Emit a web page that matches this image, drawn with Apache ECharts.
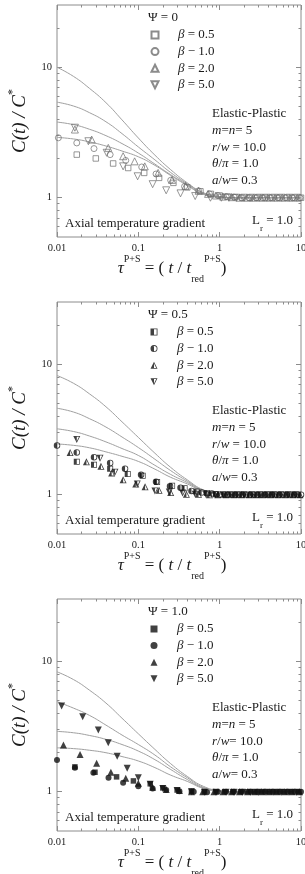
<!DOCTYPE html>
<html>
<head>
<meta charset="utf-8">
<title>C(t)/C* versus reduced time</title>
<script src="https://cdn.jsdelivr.net/npm/echarts@6/dist/echarts.min.js"></script>
<style>
  html, body { margin: 0; padding: 0; background: #fff; }
  #chart { width: 305px; height: 874px; }
</style>
</head>
<body>
<div id="chart"></div>
<script>
  // Axis ticks and labels
  var xTicks = [0.01, 0.1, 1, 10];
  var xTickLabels = ['0.01', '0.1', '1', '10'];
  var xMinorTicks = [0.02, 0.03, 0.04, 0.05, 0.06, 0.07, 0.08, 0.09,
                     0.2, 0.3, 0.4, 0.5, 0.6, 0.7, 0.8, 0.9,
                     2, 3, 4, 5, 6, 7, 8, 9];
  var yTicks = [1, 10];
  var yTickLabels = ['1', '10'];
  var yMinorTicks = [0.6, 0.7, 0.8, 0.9, 2, 3, 4, 5, 6, 7, 8, 9, 20];

  // Texts
  var psiLabels = ['Ψ = 0', 'Ψ = 0.5', 'Ψ = 1.0'];
  var betaLabels = ['{i|β} = 0.5', '{i|β} − 1.0', '{i|β} = 2.0', '{i|β} = 5.0'];
  var paramLines = [
    ['Elastic-Plastic', '{i|m}={i|n}= 5', '{i|r}/{i|w} = 10.0', '{i|θ}/{i|π} = 1.0', '{i|a}/{i|w}= 0.3'],
    ['Elastic-Plastic', '{i|m}={i|n} = 5', '{i|r}/{i|w} = 10.0', '{i|θ}/{i|π} = 1.0', '{i|a}/{i|w}= 0.3'],
    ['Elastic-Plastic', '{i|m}={i|n} = 5', '{i|r}/{i|w}= 10.0', '{i|θ}/{i|π} = 1.0', '{i|a}/{i|w}= 0.3']
  ];

  // Gray model curves, sampled at curveX
  var curveX = [0.01, 0.016, 0.025, 0.04, 0.063, 0.1, 0.16, 0.25, 0.4, 0.63, 1, 1.6, 2.5, 4, 6.3, 10];

  var p1CurveA = [10, 8.5, 6.9, 5.35, 3.95, 2.87, 2.12, 1.64, 1.3, 1.09, 1.01, 1, 1, 1, 1, 1];
  var p1CurveB = [5.4, 5.04, 4.49, 3.82, 3.1, 2.45, 1.95, 1.56, 1.28, 1.09, 1.02, 1, 1, 1, 1, 1];
  var p1CurveC = [3.8, 3.63, 3.35, 2.99, 2.6, 2.2, 1.81, 1.5, 1.26, 1.07, 1.02, 1, 1, 1, 1, 1];
  var p1CurveD = [2.9, 2.82, 2.68, 2.49, 2.28, 2.06, 1.77, 1.48, 1.24, 1.06, 1.01, 1, 1, 1, 1, 1];

  var p2CurveA = [8.2, 7.14, 5.94, 4.72, 3.62, 2.75, 2.08, 1.62, 1.3, 1.09, 1.02, 1, 1, 1, 1, 1];
  var p2CurveB = [4.6, 4.3, 3.83, 3.3, 2.77, 2.3, 1.87, 1.53, 1.27, 1.08, 1.02, 1, 1, 1, 1, 1];
  var p2CurveC = [3.2, 3.05, 2.82, 2.54, 2.26, 2.0, 1.68, 1.43, 1.24, 1.07, 1.02, 1, 1, 1, 1, 1];
  var p2CurveD = [2.45, 2.39, 2.29, 2.13, 1.97, 1.8, 1.57, 1.36, 1.21, 1.06, 1.01, 1, 1, 1, 1, 1];

  var p3CurveA = [8.3, 7.23, 6.01, 4.78, 3.66, 2.78, 2.11, 1.64, 1.31, 1.1, 1.02, 1, 1, 1, 1, 1];
  var p3CurveB = [4.9, 4.37, 3.85, 3.24, 2.72, 2.3, 1.91, 1.55, 1.28, 1.08, 1.02, 1, 1, 1, 1, 1];
  var p3CurveC = [2.9, 2.83, 2.7, 2.52, 2.3, 2.05, 1.76, 1.48, 1.24, 1.07, 1.02, 1, 1, 1, 1, 1];
  var p3CurveD = [2.17, 2.14, 2.08, 1.99, 1.86, 1.72, 1.53, 1.34, 1.2, 1.06, 1.01, 1, 1, 1, 1, 1];

  // Measured points [tau, C(t)/C*]
  // Psi = 0
  var p1Beta05 = [[0.0175,2.14],[0.030,2.0],[0.049,1.83],[0.075,1.69],[0.118,1.55],[0.18,1.42],[0.27,1.3],[0.4,1.2],[0.58,1.12],[0.78,1.07],[1.0,1.04],[1.25,1.02],[1.55,1.01],[1.9,1.0],[2.35,1.0],[2.9,1.0],[3.6,1.0],[4.4,1.0],[5.4,1.0],[6.7,1.0],[8.2,1.0],[10,1.0]];
  var p1Beta10 = [[0.0104,2.88],[0.0175,2.63],[0.0285,2.38],[0.045,2.14],[0.07,1.93],[0.11,1.72],[0.165,1.52],[0.25,1.36],[0.37,1.22],[0.55,1.13],[0.75,1.07],[0.95,1.04],[1.2,1.02],[1.5,1.01],[1.85,1.0],[2.3,1.0],[2.8,1.0],[3.4,1.0],[4.2,1.0],[5.2,1.0],[6.4,1.0],[7.9,1.0],[9.7,1.0]];
  var p1Beta20 = [[0.0166,3.33],[0.0267,2.79],[0.0427,2.41],[0.065,2.08],[0.09,1.9],[0.12,1.74],[0.175,1.55],[0.26,1.37],[0.38,1.23],[0.55,1.13],[0.72,1.07],[0.9,1.04],[1.1,1.02],[1.4,1.01],[1.75,1.0],[2.15,1.0],[2.6,1.0],[3.2,1.0],[3.9,1.0],[4.8,1.0],[5.9,1.0],[7.3,1.0],[9,1.0]];
  var p1Beta50 = [[0.0166,3.44],[0.0243,2.71],[0.0408,2.21],[0.065,1.74],[0.098,1.46],[0.15,1.27],[0.22,1.14],[0.33,1.08],[0.5,1.03],[0.77,1.0],[1.05,1.0],[1.3,1.0],[1.6,1.0],[2.0,1.0],[2.5,1.0],[3.1,1.0],[3.8,1.0],[4.7,1.0],[5.8,1.0],[7.2,1.0],[8.9,1.0]];
  // Psi = 0.5
  var p2Beta05 = [[0.0175,1.79],[0.0285,1.70],[0.045,1.58],[0.074,1.44],[0.113,1.4],[0.17,1.25],[0.26,1.17],[0.37,1.12],[0.52,1.06],[0.7,1.03],[0.9,1.01],[1.15,1.0],[1.4,1.0],[1.7,1.0],[2.1,1.0],[2.6,1.0],[3.2,1.0],[3.9,1.0],[4.8,1.0],[5.9,1.0],[7.3,1.0],[9,1.0]];
  var p2Beta10 = [[0.01,2.38],[0.0175,2.11],[0.0285,1.94],[0.045,1.75],[0.0686,1.58],[0.108,1.42],[0.165,1.26],[0.245,1.16],[0.33,1.13],[0.45,1.07],[0.6,1.04],[0.8,1.02],[1.0,1.0],[1.25,1.0],[1.55,1.0],[1.9,1.0],[2.35,1.0],[2.9,1.0],[3.6,1.0],[4.4,1.0],[5.4,1.0],[6.7,1.0],[8.2,1.0],[10,1.0]];
  var p2Beta20 = [[0.0145,2.11],[0.023,1.79],[0.0347,1.65],[0.047,1.47],[0.065,1.30],[0.093,1.21],[0.121,1.15],[0.18,1.08],[0.25,1.04],[0.39,1.01],[0.55,1.01],[0.75,1.0],[0.95,1.0],[1.2,1.0],[1.5,1.0],[1.85,1.0],[2.3,1.0],[2.8,1.0],[3.4,1.0],[4.2,1.0],[5.2,1.0],[6.4,1.0],[7.9,1.0],[9.7,1.0]];
  var p2Beta50 = [[0.0175,2.65],[0.0338,1.9],[0.0516,1.49],[0.097,1.21],[0.16,1.07],[0.24,1.05],[0.35,1.03],[0.5,1.01],[0.68,1.0],[0.88,1.0],[1.1,1.0],[1.35,1.0],[1.65,1.0],[2.0,1.0],[2.5,1.0],[3.1,1.0],[3.8,1.0],[4.6,1.0],[5.7,1.0],[7,1.0],[8.6,1.0]];
  // Psi = 1.0
  var p3Beta05 = [[0.0166,1.55],[0.0293,1.41],[0.054,1.30],[0.087,1.21],[0.14,1.15],[0.2,1.07],[0.3,1.03],[0.45,1.01],[0.65,1.0],[0.9,1.0],[1.15,1.0],[1.45,1.0],[1.8,1.0],[2.2,1.0],[2.7,1.0],[3.3,1.0],[4.1,1.0],[5,1.0],[6.2,1.0],[7.6,1.0],[9.4,1.0]];
  var p3Beta10 = [[0.01,1.75],[0.0166,1.53],[0.028,1.4],[0.043,1.28],[0.065,1.17],[0.1,1.1],[0.15,1.06],[0.22,1.03],[0.32,1.01],[0.48,1.0],[0.7,0.99],[0.95,1.0],[1.2,1.0],[1.5,1.0],[1.9,1.0],[2.4,1.0],[2.9,1.0],[3.6,1.0],[4.5,1.0],[5.5,1.0],[6.8,1.0],[8.4,1.0],[10,1.0]];
  var p3Beta20 = [[0.012,2.28],[0.0192,1.93],[0.0307,1.65],[0.046,1.41],[0.07,1.27],[0.1,1.16],[0.15,1.08],[0.22,1.04],[0.32,1.02],[0.45,1.0],[0.62,1.0],[0.85,1.0],[1.1,1.0],[1.4,1.0],[1.75,1.0],[2.2,1.0],[2.7,1.0],[3.3,1.0],[4.1,1.0],[5.1,1.0],[6.3,1.0],[7.8,1.0],[9.6,1.0]];
  var p3Beta50 = [[0.0114,4.53],[0.0207,3.75],[0.0322,2.97],[0.0427,2.37],[0.055,1.87],[0.073,1.51],[0.1,1.28],[0.14,1.14],[0.2,1.06],[0.3,1.02],[0.45,1.0],[0.65,0.99],[0.9,0.99],[1.2,0.99],[1.5,0.99],[1.9,0.99],[2.4,0.99],[3,0.99],[3.7,0.99],[4.6,0.99],[5.7,0.99],[7.1,0.99],[8.8,0.99]];

  var curveSets = [
    [p1CurveA, p1CurveB, p1CurveC, p1CurveD],
    [p2CurveA, p2CurveB, p2CurveC, p2CurveD],
    [p3CurveA, p3CurveB, p3CurveC, p3CurveD]
  ];
  var markerSets = [
    [p1Beta05, p1Beta10, p1Beta20, p1Beta50],
    [p2Beta05, p2Beta10, p2Beta20, p2Beta50],
    [p3Beta05, p3Beta10, p3Beta20, p3Beta50]
  ];

  // Layout and style
  var FONT = 'Liberation Serif';
  var INK = '#1a1a1a';
  var FRAME = '#8c8c8c';
  var panelTops = [5, 302, 599];
  var gridLeft = 57, gridWidth = 244, gridHeight = 232;

  // marker shapes
  var downTri = 'path://M0,0L10,0L5,10Z';
  // half-filled ones for Psi = 0.5
  var halfSquare = 'path://M0,0H10V10H0Z M1.2,1.2V8.8H8.8V1.2Z M0,0H5V10H0Z';
  var halfCircle = 'path://M5,0A5,5 0 0,1 5,10A5,5 0 0,1 5,0Z M5,1.2A3.8,3.8 0 0,0 5,8.8A3.8,3.8 0 0,0 5,1.2Z M5,10A5,5 0 0,1 5,0Z';
  var halfUp = 'path://M5,0L10,10L0,10Z M5,2.4L1.8,8.9L8.2,8.9Z M5,0L5,10L0,10Z';
  var halfDown = 'path://M0,0L10,0L5,10Z M1.8,1.1L5,7.6L8.2,1.1Z M0,0L5,0L5,10Z';

  var symbolSets = [
    [['rect', 5.5], ['circle', 6], ['triangle', 7], [downTri, 7]],
    [[halfSquare, 6], [halfCircle, 6.5], [halfUp, 7], [halfDown, 7]],
    [['rect', 5.5], ['circle', 6], ['triangle', 7], [downTri, 7]]
  ];
  var markerStyles = [
    { color: 'rgba(255,255,255,0)', borderColor: '#6e6e6e', borderWidth: 0.9 },
    { color: '#111' },
    { color: '#111' }
  ];

  function tickIndex(list, v) {
    for (var i = 0; i < list.length; i++) {
      if (Math.abs(list[i] - v) / list[i] < 1e-6) return i;
    }
    return -1;
  }

  function makeAxes(dim, gi) {
    var isX = dim === 'x';
    var majors = isX ? xTicks : yTicks;
    var minors = isX ? xMinorTicks : yMinorTicks;
    var labels = isX ? xTickLabels : yTickLabels;
    var positions = isX ? ['bottom', 'top'] : ['left', 'right'];
    var out = [];
    positions.forEach(function (pos, k) {
      [[majors, 5], [minors, 2.5]].forEach(function (t, m) {
        out.push({
          type: 'log',
          logBase: 10,
          gridIndex: gi,
          position: pos,
          min: isX ? 0.01 : 0.5,
          max: isX ? 10 : 30,
          splitLine: { show: false },
          axisLine: { show: false },
          axisTick: { show: true, inside: true, length: t[1], customValues: t[0],
                      lineStyle: { color: FRAME, width: 1 } },
          axisLabel: (k === 0 && m === 0) ? {
            show: true,
            customValues: majors,
            margin: isX ? 6 : 5,
            fontFamily: FONT,
            fontSize: 10.5,
            color: INK,
            formatter: function (v) {
              var i = tickIndex(majors, v);
              return i < 0 ? '' : labels[i];
            }
          } : { show: false }
        });
      });
    });
    return out;
  }

  var grids = [], xAxes = [], yAxes = [], series = [], legends = [], graphics = [];

  var italic = { fontFamily: FONT, fontSize: 13, fontStyle: 'italic', color: INK, fill: INK };

  function label(x, y, text) {
    return {
      type: 'text', x: x, y: y, silent: true,
      style: {
        text: text, fill: INK, fontFamily: FONT, fontSize: 13, verticalAlign: 'middle',
        rich: {
          i: italic,
          n: { fontFamily: FONT, fontSize: 13, fill: INK, lineHeight: 24 },
          s: { fontFamily: FONT, fontSize: 9, fill: INK, lineHeight: 10, verticalAlign: 'bottom' }
        }
      }
    };
  }

  panelTops.forEach(function (top, p) {
    grids.push({
      left: gridLeft, top: top, width: gridWidth, height: gridHeight,
      show: true, borderColor: FRAME, borderWidth: 1, backgroundColor: 'transparent',
      containLabel: false, outerBoundsMode: 'none'
    });
    xAxes = xAxes.concat(makeAxes('x', p));
    yAxes = yAxes.concat(makeAxes('y', p));

    curveSets[p].forEach(function (ys) {
      series.push({
        type: 'line', xAxisIndex: 4 * p, yAxisIndex: 4 * p,
        data: curveX.map(function (x, i) { return [x, ys[i]]; }),
        smooth: 0.5, showSymbol: false, symbol: 'none', silent: true,
        lineStyle: { color: '#a0a0a0', width: 1 }, z: 2
      });
    });

    var names = [];
    markerSets[p].forEach(function (pts, k) {
      var sym = symbolSets[p][k];
      var name = 'p' + (p + 1) + '_' + k;
      names.push(name);
      series.push({
        type: 'scatter', name: name, xAxisIndex: 4 * p, yAxisIndex: 4 * p,
        data: pts, symbol: sym[0], symbolSize: sym[1],
        itemStyle: markerStyles[p], silent: true, z: 3
      });
    });

    legends.push({
      orient: 'vertical', left: 150.5, top: top + 21.7, padding: 0,
      itemWidth: 7, itemHeight: 7, itemGap: 0, selectedMode: false,
      data: names,
      formatter: function (name) { return '{g| }' + betaLabels[+name.split('_')[1]]; },
      textStyle: {
        fontFamily: FONT, fontSize: 13, color: INK, lineHeight: 16.6,
        rich: {
          g: { width: 14.5, fontSize: 13, lineHeight: 16.6 },
          i: { fontFamily: FONT, fontSize: 13, fontStyle: 'italic', color: INK, lineHeight: 16.6 }
        }
      }
    });

    graphics.push(label(148, top + 12.5, psiLabels[p]));
    paramLines[p].forEach(function (s, k) {
      graphics.push(label(212, top + 109 + k * 16.6, s));
    });
    graphics.push(label(65, top + 219, 'Axial temperature gradient'));
    graphics.push(label(252, top + 216, '{n|L}{s|r}{n| = 1.0}'));

    // axis titles
    graphics.push({
      type: 'text', x: 172, y: top + gridHeight + 32, silent: true,
      style: {
        text: '{i|τ}{sup|P+S}{n| = ( }{i|t}{n| / }{i|t}{sub|red}{sup|P+S}{n|)}',
        align: 'center', verticalAlign: 'middle', fill: INK,
        rich: {
          n: { fontFamily: FONT, fontSize: 17, fill: INK, lineHeight: 30 },
          i: { fontFamily: FONT, fontSize: 17, fontStyle: 'italic', fill: INK, lineHeight: 30 },
          sup: { fontFamily: FONT, fontSize: 10, fill: INK, lineHeight: 10, verticalAlign: 'top' },
          sub: { fontFamily: FONT, fontSize: 10, fill: INK, lineHeight: 6, verticalAlign: 'bottom' }
        }
      }
    });
    graphics.push({
      type: 'text', x: 20, y: top + 116, rotation: Math.PI / 2, silent: true,
      style: {
        text: '{i|C(t) / C}{sup|*}',
        align: 'center', verticalAlign: 'middle', fill: INK,
        rich: {
          i: { fontFamily: FONT, fontSize: 19, fontStyle: 'italic', fill: INK, lineHeight: 26 },
          sup: { fontFamily: FONT, fontSize: 12, fill: INK, lineHeight: 14, verticalAlign: 'top' }
        }
      }
    });
  });

  var chart = echarts.init(document.getElementById('chart'), null, { renderer: 'canvas' });
  chart.setOption({
    animation: false,
    backgroundColor: '#fff',
    grid: grids,
    xAxis: xAxes,
    yAxis: yAxes,
    legend: legends,
    series: series,
    graphic: graphics
  });
</script>
</body>
</html>
